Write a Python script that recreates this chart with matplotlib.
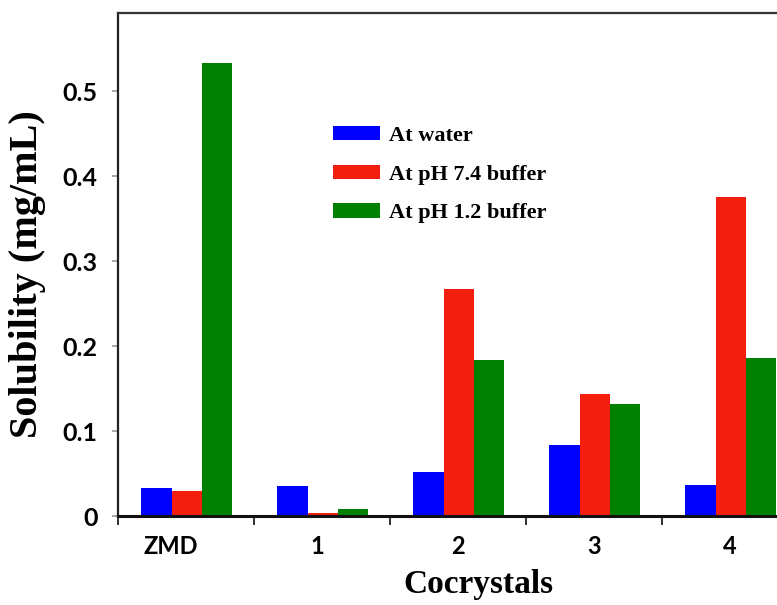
import matplotlib
matplotlib.use("Agg")
import matplotlib.pyplot as plt
import numpy as np
from matplotlib.transforms import ScaledTranslation

categories = ["ZMD", "1", "2", "3", "4"]
series_names = ["At water", "At pH 7.4 buffer", "At pH 1.2 buffer"]
water = [0.033, 0.035, 0.052, 0.084, 0.037]
ph74 = [0.029, 0.003, 0.267, 0.143, 0.376]
ph12 = [0.533, 0.0085, 0.184, 0.132, 0.186]
yticks = [0, 0.1, 0.2, 0.3, 0.4, 0.5]
ytick_labels = ["0", "0.1", "0.2", "0.3", "0.4", "0.5"]

colors = ["#0000FF", "#F41E0E", "#008000"]

fig = plt.figure(figsize=(7.77, 6.05), dpi=100)
ax = fig.add_axes([118/777, 89/605, 680/777, 503/605])

x = np.arange(len(categories))
w = 0.222
for i, (vals, name, c) in enumerate(zip([water, ph74, ph12], series_names, colors)):
    ax.bar(x + (i - 1) * w + 0.005, vals, width=w, color=c, label=name, linewidth=0)

ax.set_xlim(-0.5, 4.5)
ax.set_ylim(0, 0.592)

# spines
ax.spines["right"].set_visible(False)
ax.spines["left"].set_linewidth(1.6)
ax.spines["left"].set_color("#222222")
ax.spines["top"].set_linewidth(1.6)
ax.spines["top"].set_color("#333333")
ax.spines["bottom"].set_linewidth(2.2)
ax.spines["bottom"].set_color("#111111")

# y ticks
ax.set_yticks(yticks)
ax.set_yticklabels(ytick_labels, fontfamily="Lato", fontweight="bold", fontsize=18)
ax.tick_params(axis="y", direction="out", length=4.5, width=1.2, color="#999999", pad=10)

# x ticks: category labels at centers, tick marks at boundaries
ax.set_xticks(x)
ax.set_xticklabels(categories, fontfamily="Lato", fontweight="bold", fontsize=17)
ax.tick_params(axis="x", which="major", length=0, pad=14)
ax.set_xticks(np.arange(-0.5, 5.0, 1.0), minor=True)
ax.tick_params(axis="x", which="minor", direction="out", length=6.5, width=1.3, color="#222222")

lbl0 = ax.get_xticklabels()[0]
lbl0.set_transform(lbl0.get_transform() + ScaledTranslation(-0.15, 0, fig.dpi_scale_trans))
lbl1 = ax.get_xticklabels()[1]
lbl1.set_transform(lbl1.get_transform() + ScaledTranslation(-0.05, 0, fig.dpi_scale_trans))

ax.set_xlabel("Cocrystals", fontfamily="Liberation Serif", fontweight="bold", fontsize=24)
ax.xaxis.set_label_coords((478 - 118) / 680, -53 / 503)
ax.set_ylabel("Solubility (mg/mL)", fontfamily="Liberation Serif", fontweight="bold", fontsize=29)
ax.yaxis.set_label_coords((46 - 118) / 680, (516 - 274) / 503)

leg = ax.legend(loc="upper left", bbox_to_anchor=(333/777, 1 - 126/605),
                bbox_transform=fig.transFigure, frameon=False,
                prop={"family": "Liberation Serif", "weight": "bold", "size": 16},
                handlelength=2.1, handleheight=0.6, handletextpad=0.4,
                labelspacing=0.84, borderpad=0, borderaxespad=0)

fig.savefig("out.png", dpi=100)
